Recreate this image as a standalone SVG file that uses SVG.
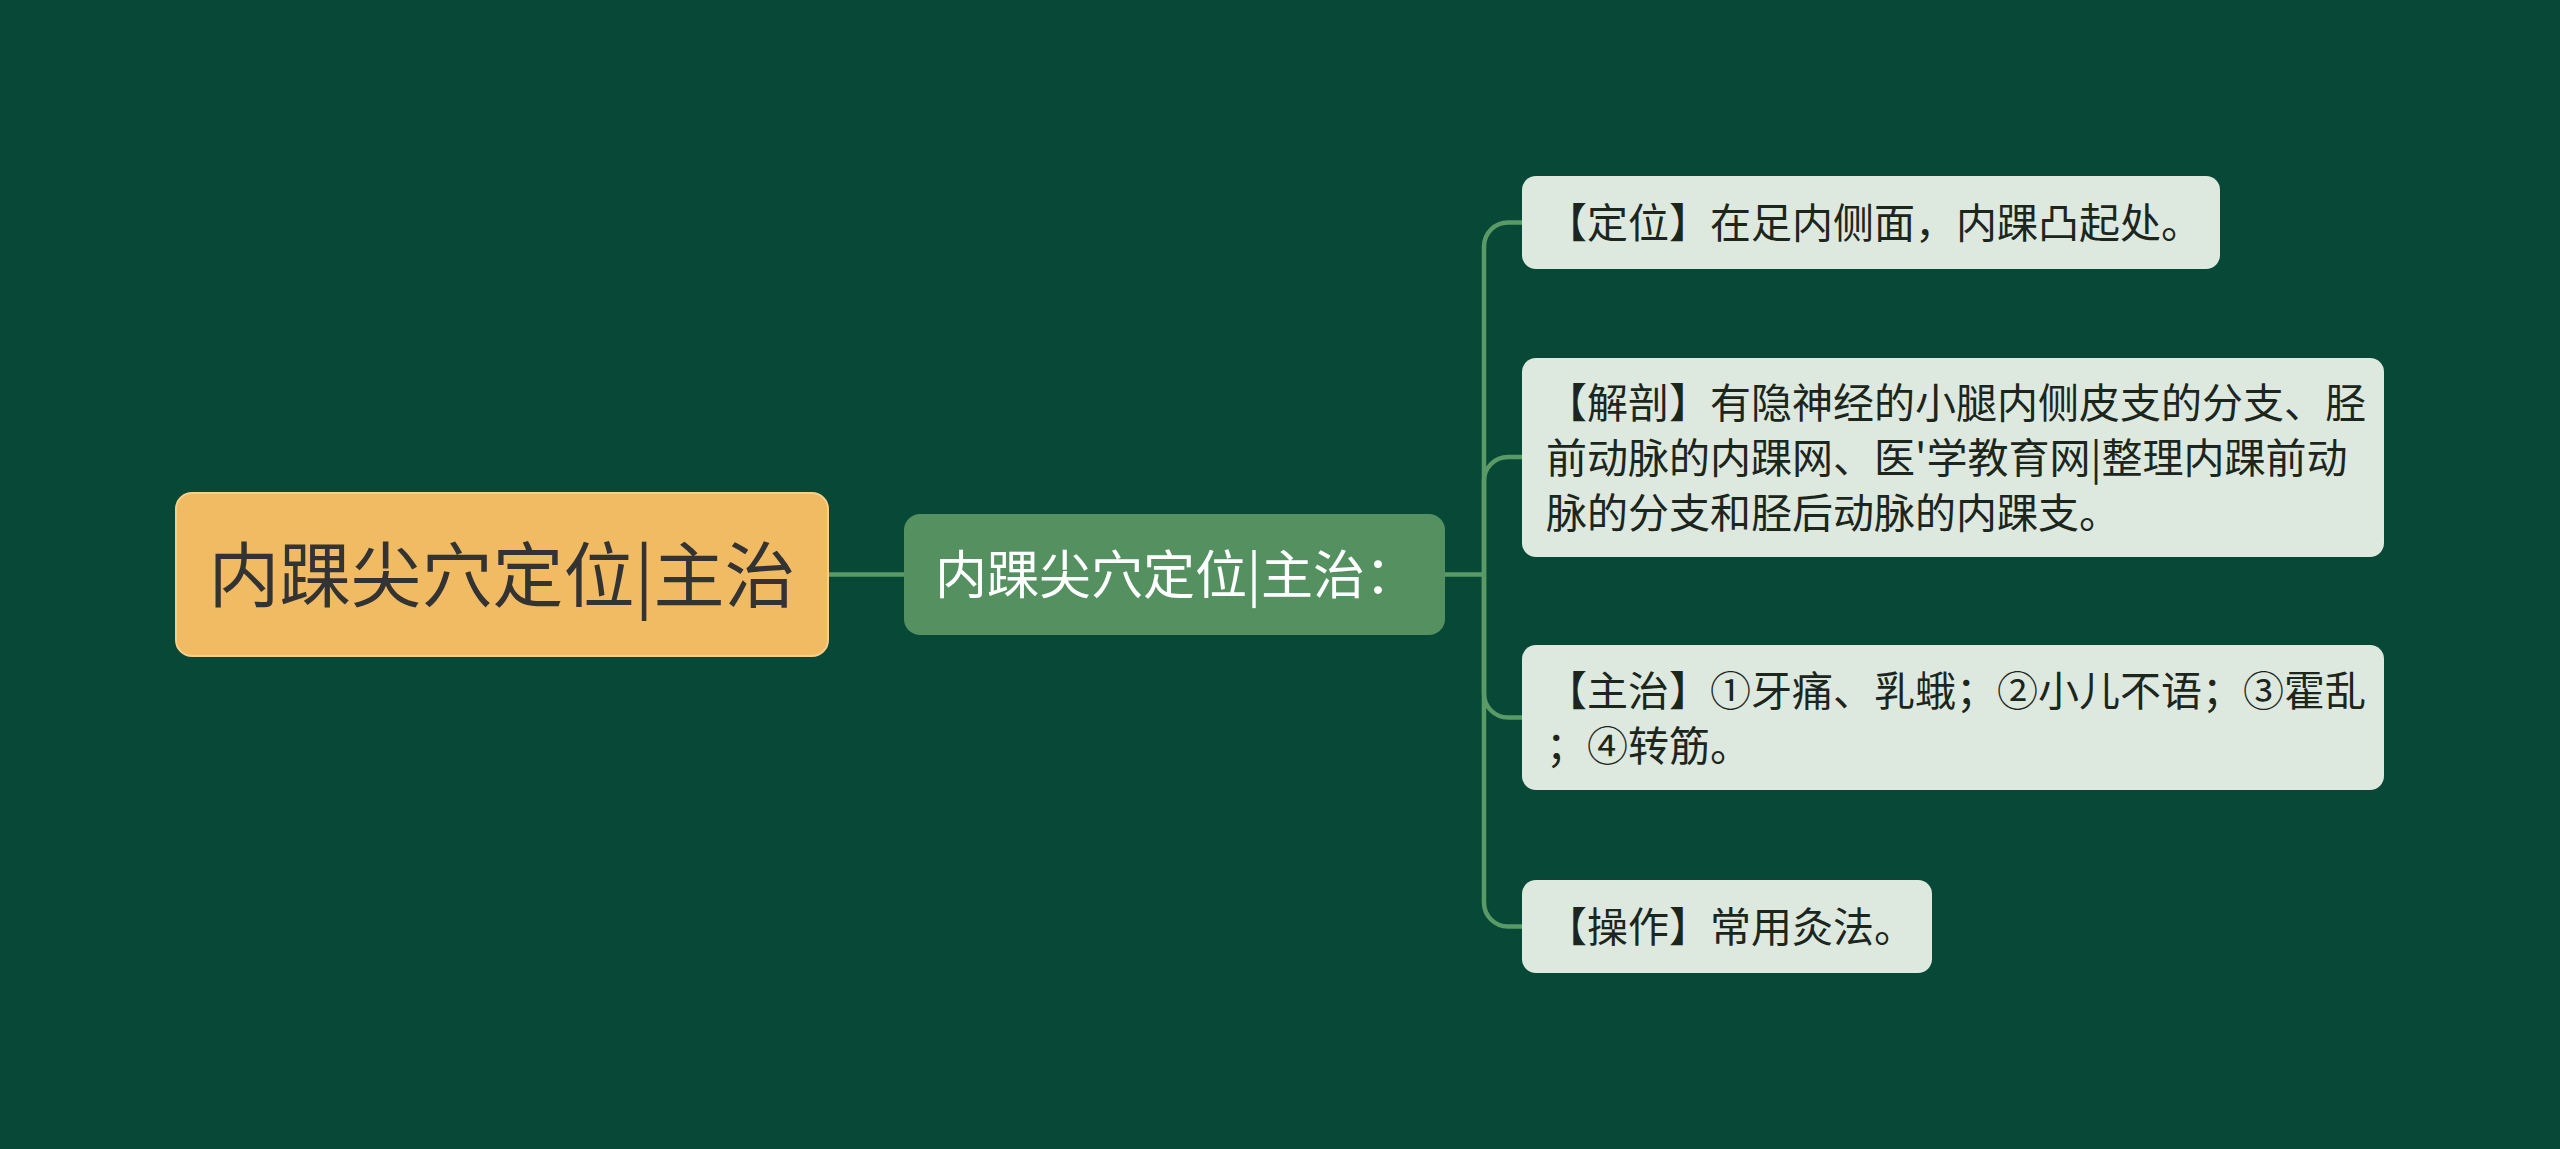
<svg xmlns="http://www.w3.org/2000/svg" width="2560" height="1149" viewBox="0 0 2560 1149">
  <style>
    .txt { font-family: "Noto Sans CJK SC", "Noto Sans", sans-serif; }
    .root-box { fill: #f0bb63; stroke: #f6d08a; stroke-width: 2; }
    .root-txt { fill: #333333; font-size: 71px; }
    .mid-box { fill: #559160; }
    .mid-txt { fill: #ffffff; font-size: 52px; }
    .leaf-box { fill: #dde9df; }
    .leaf-txt { fill: #1c261c; font-size: 41px; }
    .conn { fill: none; stroke: #5a9a66; stroke-width: 4.5; }
  </style>
  <rect width="2560" height="1149" fill="#074836"/>
  <g id="connectors">
    <path class="conn" d="M828,574.5 H904"/>
    <path class="conn" d="M1445,574.5 H1484"/>
    <path class="conn" d="M1484,574.5 V246.5 A24,24 0 0 1 1508,222.5 H1522"/>
    <path class="conn" d="M1484,574.5 V481 A24,24 0 0 1 1508,457 H1522"/>
    <path class="conn" d="M1484,574.5 V693.5 A24,24 0 0 0 1508,717.5 H1522"/>
    <path class="conn" d="M1484,574.5 V902.5 A24,24 0 0 0 1508,926.5 H1522"/>
  </g>
  <g id="root">
    <rect class="root-box" x="176" y="493" width="652" height="163" rx="16"/>
    <text class="txt root-txt" x="502" y="601" text-anchor="middle">内踝尖穴定位|主治</text>
  </g>
  <g id="mid">
    <rect class="mid-box" x="904" y="514" width="541" height="121" rx="16"/>
    <text class="txt mid-txt" x="935" y="594">内踝尖穴定位|主治：</text>
  </g>
  <g id="leaf1">
    <rect class="leaf-box" x="1522" y="176" width="698" height="93" rx="14"/>
    <text class="txt leaf-txt" x="1546" y="238">【定位】在足内侧面，内踝凸起处。</text>
  </g>
  <g id="leaf2">
    <rect class="leaf-box" x="1522" y="358" width="862" height="199" rx="14"/>
    <text class="txt leaf-txt" x="1546" y="418">【解剖】有隐神经的小腿内侧皮支的分支、胫</text>
    <text class="txt leaf-txt" x="1546" y="473">前动脉的内踝网、医'学教育网|整理内踝前动</text>
    <text class="txt leaf-txt" x="1546" y="528">脉的分支和胫后动脉的内踝支。</text>
  </g>
  <g id="leaf3">
    <rect class="leaf-box" x="1522" y="645" width="862" height="145" rx="14"/>
    <text class="txt leaf-txt" x="1546" y="706">【主治】①牙痛、乳蛾；②小儿不语；③霍乱</text>
    <text class="txt leaf-txt" x="1546" y="761">；④转筋。</text>
  </g>
  <g id="leaf4">
    <rect class="leaf-box" x="1522" y="880" width="410" height="93" rx="14"/>
    <text class="txt leaf-txt" x="1546" y="942">【操作】常用灸法。</text>
  </g>
</svg>
